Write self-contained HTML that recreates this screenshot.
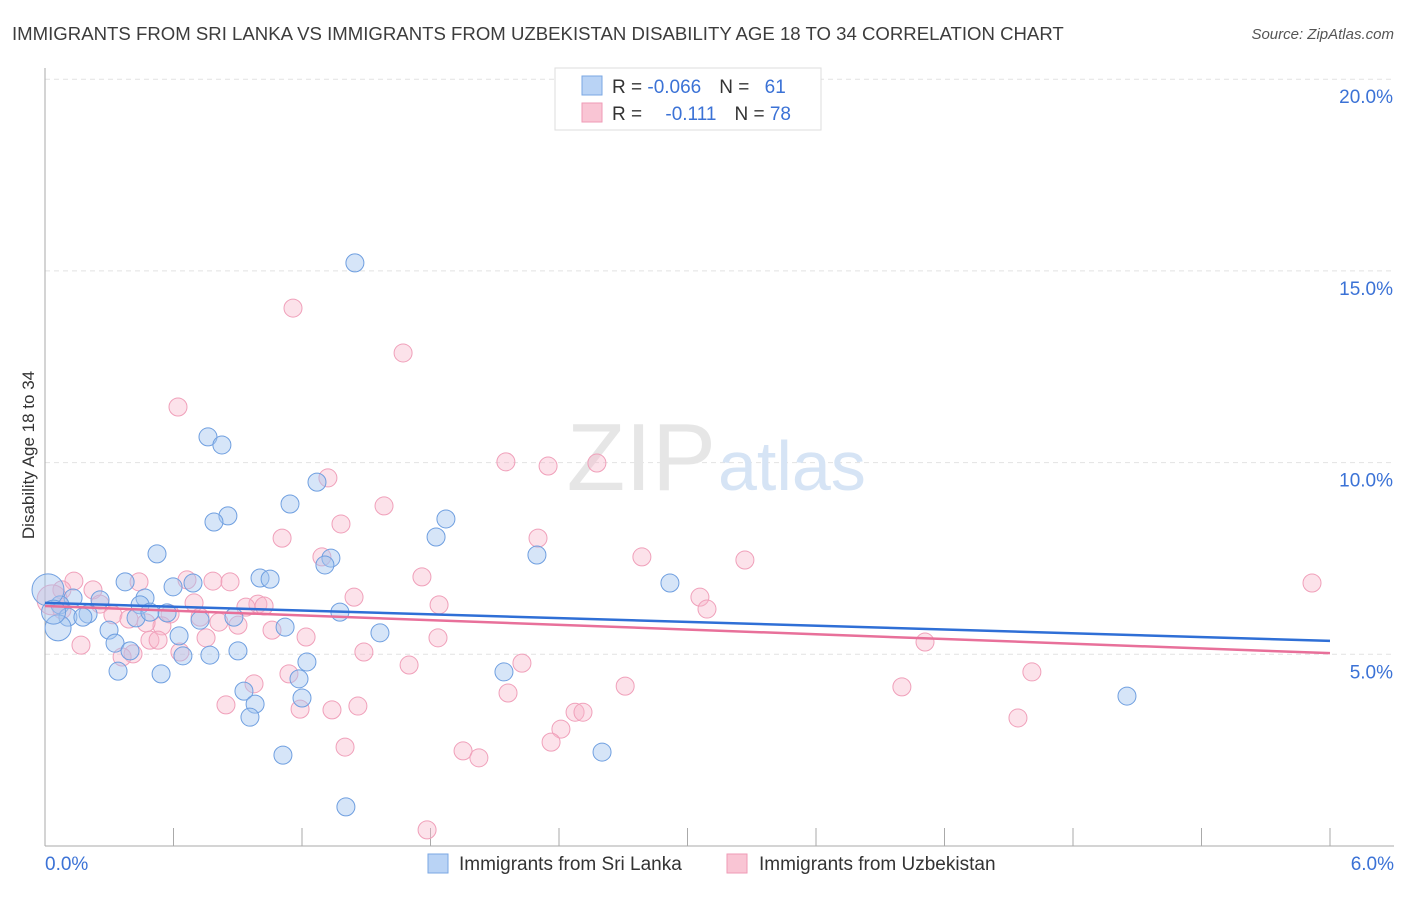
<!DOCTYPE html>
<html><head><meta charset="utf-8">
<style>
body{margin:0;background:#fff;font-family:"Liberation Sans",sans-serif;}
svg text{font-family:"Liberation Sans",sans-serif;}
</style></head>
<body>
<svg id="chart" width="1406" height="892" viewBox="0 0 1406 892">
<text x="12" y="40" font-size="18.6" fill="#3c3c3c">IMMIGRANTS FROM SRI LANKA VS IMMIGRANTS FROM UZBEKISTAN DISABILITY AGE 18 TO 34 CORRELATION CHART</text>
<text x="1394" y="39" font-size="15" fill="#555" text-anchor="end" font-style="italic">Source: ZipAtlas.com</text>
<text x="34" y="455" font-size="17" fill="#333" text-anchor="middle" transform="rotate(-90 34 455)">Disability Age 18 to 34</text>
<g id="grid"></g>
<g id="axes"></g>
<text x="716" y="490" font-size="96" fill="#e6e6e6" text-anchor="end" font-family="Liberation Serif">ZIP</text>
<text x="718" y="490" font-size="70" fill="#d6e4f5">atlas</text>
<g id="pts"></g>
<g id="trend"></g>
<g>
<rect x="555" y="68" width="266" height="62" fill="#fff" stroke="#ddd"/>
<rect x="582" y="76" width="20" height="19" fill="#b9d3f5" stroke="#7aa7e3"/>
<rect x="582" y="103" width="20" height="19" fill="#f9c5d4" stroke="#ef9ab6"/>
<text x="612" y="93" font-size="19" fill="#333">R = <tspan fill="#3b72d6">-0.066</tspan><tspan dx="18">N = </tspan><tspan fill="#3b72d6" dx="10">61</tspan></text>
<text x="612" y="120" font-size="19" fill="#333">R = <tspan fill="#3b72d6" dx="18">-0.111</tspan><tspan dx="18">N = </tspan><tspan fill="#3b72d6">78</tspan></text>
</g>
<g>
<rect x="428" y="854" width="20" height="19" fill="#b9d3f5" stroke="#7aa7e3"/>
<text x="459" y="870" font-size="19" fill="#333">Immigrants from Sri Lanka</text>
<rect x="727" y="854" width="20" height="19" fill="#f9c5d4" stroke="#ef9ab6"/>
<text x="759" y="870" font-size="19" fill="#333">Immigrants from Uzbekistan</text>
</g>
</svg>
<script>
const yTicks=[5,10,15,20];
const yTickLabels=["5.0%","10.0%","15.0%","20.0%"];
const xTickCount=10;
const xEndLabels=["0.0%","6.0%"];
const blueX=[1.447,0.761,0.826,1.270,1.144,1.872,0.854,0.789,1.826,0.523,1.335,1.307,2.297,1.004,1.051,0.374,0.598,0.691,2.918,0.467,0.444,0.257,0.131,0.070,0.201,0.107,0.177,0.425,0.490,0.570,0.724,0.882,1.377,0.061,0.299,1.121,1.564,0.626,0.327,0.397,0.770,0.901,0.644,1.223,0.341,0.542,2.143,1.186,0.929,0.981,1.200,0.957,1.111,2.601,5.052,1.405,0.014,0.040];
const blueY=[15.21,10.67,10.46,9.49,8.92,8.53,8.61,8.45,8.06,7.62,7.51,7.33,7.59,6.99,6.96,6.89,6.76,6.86,6.86,6.47,6.29,6.42,6.47,6.29,6.05,5.97,5.97,5.95,6.10,6.08,5.89,5.97,6.10,5.69,5.63,5.71,5.56,5.48,5.29,5.09,4.98,5.09,4.96,4.80,4.56,4.49,4.54,4.36,4.04,3.70,3.86,3.36,2.37,2.45,3.91,1.02,6.68,6.10];
const blueR=[9,9,9,9,9,9,9,9,9,9,9,9,9,9,9,9,9,9,9,9,9,9,9,9,9,9,9,9,9,9,9,9,9,13,9,9,9,9,9,9,9,9,9,9,9,9,9,9,9,9,9,9,9,9,9,9,16,12];
const pinkX=[1.158,1.672,0.621,2.152,2.349,2.577,1.321,1.583,1.382,1.107,2.302,1.293,2.787,3.268,1.760,1.443,5.916,0.135,0.224,0.439,0.663,0.784,0.864,0.079,0.033,0.257,0.696,0.994,0.938,1.023,1.840,3.058,3.091,0.317,0.392,0.584,0.724,0.812,0.901,0.546,0.472,1.060,0.490,0.528,0.752,1.219,1.835,0.168,0.411,0.360,0.630,1.489,4.109,1.700,2.227,1.139,2.709,4.001,4.608,0.976,2.162,0.845,1.191,1.340,1.461,2.475,2.512,2.409,2.363,4.543,1.401,1.952,2.026,1.784,0.079];
const pinkY=[14.03,12.86,11.45,10.02,9.91,9.99,9.60,8.87,8.40,8.03,8.03,7.54,7.54,7.46,7.02,6.49,6.86,6.91,6.68,6.89,6.94,6.91,6.89,6.68,6.42,6.31,6.34,6.31,6.23,6.26,6.29,6.49,6.18,6.03,5.92,6.05,5.97,5.84,5.76,5.74,5.82,5.63,5.37,5.37,5.43,5.45,5.43,5.24,5.01,4.93,5.06,5.06,5.32,4.72,4.77,4.49,4.17,4.15,4.54,4.23,3.99,3.68,3.57,3.55,3.65,3.49,3.49,3.05,2.71,3.34,2.58,2.48,2.30,0.42,6.16];
const blueTrend=[6.34,5.35];
const pinkTrend=[6.26,5.03];
const X0=45,X1=1330,Y0=846,PXPER=191.7/5;
function sx(v){return X0+(X1-X0)*v/6;}
function sy(v){return Y0-v*PXPER;}
const NS="http://www.w3.org/2000/svg";
function mk(t,a,p){const e=document.createElementNS(NS,t);for(const k in a)e.setAttribute(k,a[k]);p.appendChild(e);return e;}
const grid=document.getElementById('grid'),axes=document.getElementById('axes');
yTicks.forEach((v,i)=>{
 const l=mk('line',{x1:45,x2:1394,y1:sy(v),y2:sy(v),stroke:'#e2e2e2','stroke-dasharray':'5,4'},grid);
 
 
 const t=mk('text',{x:1393,y:sy(v)+24,'font-size':19,fill:'#3b72d6','text-anchor':'end'},axes);
 t.textContent=yTickLabels[i];
 
 
});
const ya=mk('line',{x1:45,x2:45,y1:68,y2:846,stroke:'#aaa'},axes);


const xa=mk('line',{x1:45,x2:1394,y1:846,y2:846,stroke:'#aaa'},axes);


for(let i=0;i<=xTickCount;i++){
 const x=sx(6*i/xTickCount);
 const tk=mk('line',{x1:x,x2:x,y1:828,y2:846,stroke:'#aaa'},axes);
 
 
}
[[0,'start',45],[1,'end',1394]].forEach(([i,a,x])=>{
 const t=mk('text',{x:x,y:870,'font-size':19,fill:'#3b72d6','text-anchor':a},axes);
 t.textContent=xEndLabels[i];
 
 
});
const pts=document.getElementById('pts');
pinkX.forEach((v,i)=>{
 const c=mk('circle',{cx:sx(v),cy:sy(pinkY[i]),r:(i==24?15:9),fill:'rgba(248,182,202,0.4)',stroke:'#f0a0ba','stroke-width':1},pts);
 
 
});
blueX.forEach((v,i)=>{
 const c=mk('circle',{cx:sx(v),cy:sy(blueY[i]),r:blueR[i],fill:'rgba(165,198,240,0.45)',stroke:'#6f9fe0','stroke-width':1},pts);
 
 
});
const tr=document.getElementById('trend');
const bl=mk('line',{x1:sx(0),y1:sy(blueTrend[0]),x2:sx(6),y2:sy(blueTrend[1]),stroke:'#2f6fd6','stroke-width':2.5},tr);


const pl=mk('line',{x1:sx(0),y1:sy(pinkTrend[0]),x2:sx(6),y2:sy(pinkTrend[1]),stroke:'#e8709a','stroke-width':2.5},tr);


</script>
</body></html>
